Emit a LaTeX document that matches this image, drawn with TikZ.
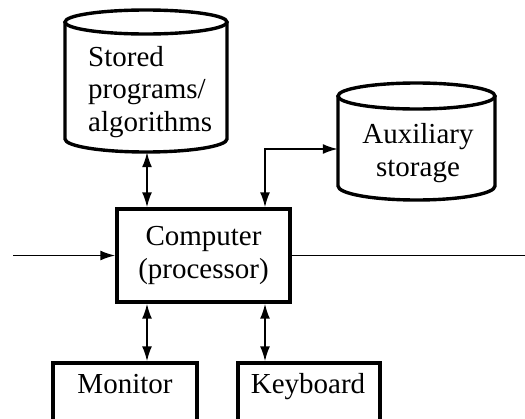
\documentclass[tikz,border=0pt]{standalone}
\usepackage{fontspec}
\setmainfont{Liberation Serif}
\usetikzlibrary{arrows.meta}
\begin{document}
\begin{tikzpicture}[x=1pt,y=1pt,
  txt/.style={font=\fontsize{29}{32.5}\selectfont, inner sep=0pt},
  boxnode/.style={draw, line width=3.4pt, inner sep=0pt},
  shapeline/.style={line width=3.4pt},
  conn/.style={line width=1.8pt},
  tip/.style={-{Latex[length=15pt,width=10pt]}},
  dtip/.style={{Latex[length=15pt,width=10pt]}-{Latex[length=15pt,width=10pt]}}]
\useasboundingbox (0,0) rectangle (525,-418);
% cylinders outlines
\draw[shapeline] (65,-22) -- (65,-139) arc[start angle=180, end angle=360, x radius=81, y radius=13] -- (227,-22);
\draw[shapeline] (146,-22) ellipse [x radius=81, y radius=12];
\draw[shapeline] (338,-96) -- (338,-186) arc[start angle=180, end angle=360, x radius=78.5, y radius=14] -- (495,-96);
\draw[shapeline] (416.5,-96) ellipse [x radius=78.5, y radius=13];
% named nodes
\node[minimum width=162pt, minimum height=130pt, inner sep=0pt] (stored) at (146,-87) {};
\node[txt, align=left, anchor=west] (storedtxt) at (88,-92) {Stored\\programs/\\algorithms};
\node[minimum width=157pt, minimum height=102pt, inner sep=0pt] (aux) at (416.5,-149) {};
\node[txt, align=center] (auxtxt) at (418,-153) {Auxiliary\\storage};
\node[boxnode, minimum width=173pt, minimum height=93pt, txt, align=center, draw, line width=3.4pt] (comp) at (203.5,-255.5) {Computer\\(processor)};
\node[boxnode, minimum width=144pt, minimum height=60pt] (mon) at (125,-393) {};
\node[txt, anchor=base] (montxt) at (125,-393) {Monitor};
\node[boxnode, minimum width=142pt, minimum height=60pt] (key) at (309,-393) {};
\node[txt, anchor=base] (keytxt) at (308,-393) {Keyboard};
% connectors
\coordinate (inl) at (13,-255.5);
\coordinate (outr) at (525,-255.5);
\coordinate (c1) at (147,0);
\coordinate (c2) at (265,0);
\draw[conn, tip] (inl) -- (comp.west);
\draw[conn] (comp.east) -- (outr);
\draw[conn, dtip] (c1 |- stored.south) -- (c1 |- comp.north);
\draw[conn, dtip] (aux.west) -| (c2 |- comp.north);
\draw[conn, dtip] (c1 |- comp.south) -- (c1 |- mon.north);
\draw[conn, dtip] (c2 |- comp.south) -- (c2 |- key.north);
\end{tikzpicture}
\end{document}
